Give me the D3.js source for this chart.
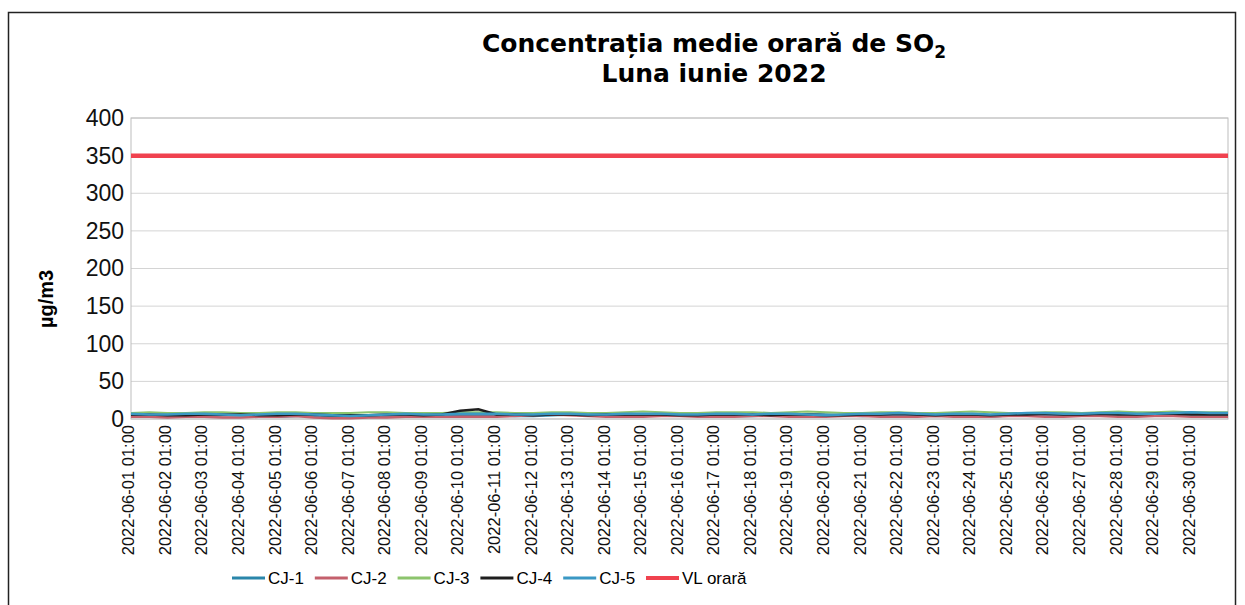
<!DOCTYPE html>
<html>
<head>
<meta charset="utf-8">
<script src="https://cdn.jsdelivr.net/npm/d3@7"></script>
<style>
  body { margin: 0; background: #fff; }
  svg { display: block; font-family: "Liberation Sans", Arial, sans-serif; }
  .grid line { stroke: #d4d4d4; }
  .xaxis text, .yaxis text { fill: #111; }
</style>
</head>
<body>
<div id="chart"></div>
<script>
// one value every 12 hours, from 2022-06-01 01:00 to 2022-07-01 01:00
var seriesNames = ["CJ-1", "CJ-2", "CJ-3", "CJ-4", "CJ-5"];
var cj1 = [4,5,4,3,4,5,5,4,3,4, 4,3,2,3,4,4,5,4,4,5, 5,4,4,5,6,5,5,4,4,5, 5,6,5,4,4,5,5,6,6,5, 4,5,6,5,5,6,4,3,5,6, 6,5,5,6,7,6,5,6,7,6, 6];
var cj2 = [3,3,2,3,3,2,2,3,3,4, 2,1,1,2,2,3,3,3,3,3, 3,4,5,6,5,4,3,3,3,4, 4,3,3,3,4,4,3,3,3,4, 4,3,3,3,4,3,3,3,4,4, 3,3,4,4,3,3,4,4,3,3, 3];
var cj3 = [8,9,8,8,9,9,8,8,9,9, 8,8,8,9,9,8,8,8,9,9, 9,8,8,9,9,8,8,9,10,9, 8,8,9,9,9,8,9,10,9,8, 8,9,9,8,8,9,10,9,8,8, 9,9,8,9,10,9,9,10,9,9, 9];
var cj4 = [6,6,5,5,6,6,6,5,5,6, 6,5,5,5,6,6,5,6,11,13, 6,6,5,6,6,5,6,6,6,6, 5,5,6,6,6,5,6,6,5,5, 6,6,7,6,5,6,6,5,6,6, 7,6,6,7,6,6,7,7,6,6, 6];
var cj5 = [7,6,6,7,7,6,5,6,7,7, 6,5,4,5,6,7,6,6,7,7, 7,6,6,7,7,6,6,7,7,7, 6,6,7,7,6,7,7,6,5,6, 7,7,8,7,6,7,7,6,7,8, 8,7,7,8,8,7,7,8,9,8, 8];
var vlOrara = 350;
var days = d3.range(1, 31);
var yTicks = [0, 50, 100, 150, 200, 250, 300, 350, 400];

var colors = ["#2a86aa", "#c4606c", "#8cc46c", "#1e1e1e", "#3a98c4", "#f0424f"];

var width = 1245, height = 605;
var plot = { left: 131, top: 118, right: 1228, bottom: 419 };

var svg = d3.select("#chart").append("svg")
  .attr("width", width)
  .attr("height", height);

// outer frame of the chart
svg.append("rect")
  .attr("x", 8.5).attr("y", 12.5)
  .attr("width", 1227).attr("height", 620)
  .attr("fill", "none").attr("stroke", "#222").attr("stroke-width", 1.5);

var xScale = d3.scaleLinear().domain([0, 720]).range([plot.left, plot.right]);
var yScale = d3.scaleLinear().domain([0, 400]).range([plot.bottom, plot.top]);

//Horizontal gridlines
svg.append("g")
  .attr("class", "grid")
  .selectAll("line")
  .data(yTicks)
  .enter().append("line")
  .attr("x1", plot.left).attr("x2", plot.right)
  .attr("y1", function(d) { return yScale(d); })
  .attr("y2", function(d) { return yScale(d); });

svg.append("rect")
  .attr("x", plot.left).attr("y", plot.top)
  .attr("width", plot.right - plot.left).attr("height", plot.bottom - plot.top)
  .attr("fill", "none").attr("stroke", "#bdbdbd");

//Y axis
var yAxis = d3.axisLeft(yScale).tickValues(yTicks).tickSize(0).tickPadding(7);
var gy = svg.append("g")
  .attr("class", "yaxis")
  .attr("transform", "translate(" + plot.left + ",0)")
  .call(yAxis);
gy.select(".domain").remove();
gy.selectAll("text").style("font-size", "23px");

svg.append("text")
  .attr("transform", "translate(53,299) rotate(-90)")
  .attr("text-anchor", "middle")
  .style("font-size", "20px")
  .style("font-weight", "bold")
  .text("µg/m3");

//X axis: one label per day
var xAxis = d3.axisBottom(xScale)
  .tickValues(days.map(function(d) { return (d - 1) * 24; }))
  .tickFormat(function(h) {
    var d = h / 24 + 1;
    return "2022-06-" + (d < 10 ? "0" + d : d) + " 01:00";
  })
  .tickSize(0);
var gx = svg.append("g")
  .attr("class", "xaxis")
  .attr("transform", "translate(0," + plot.bottom + ")")
  .call(xAxis);
gx.select(".domain").remove();
gx.selectAll("text")
  .style("font-size", "16.5px")
  .attr("text-anchor", "end")
  .attr("transform", "rotate(-90)")
  .attr("x", -6)
  .attr("y", -3)
  .attr("dy", "0.35em");

// define the line
var line = d3.line()
  .x(function(d, i) { return xScale(i * 12); })
  .y(function(d) { return yScale(d); });

var allSeries = [cj1, cj2, cj3, cj4, cj5];
allSeries.forEach(function(values, k) {
  svg.append("path")
    .datum(values)
    .attr("fill", "none")
    .attr("stroke", colors[k])
    .attr("stroke-width", k == 2 ? 2 : 2.5)
    .attr("d", line);
});

//Limit value line
svg.append("line")
  .attr("x1", xScale(0)).attr("x2", xScale(720))
  .attr("y1", yScale(vlOrara)).attr("y2", yScale(vlOrara))
  .attr("stroke", colors[5])
  .attr("stroke-width", 4.5);

//Title
var title = svg.append("text")
  .attr("text-anchor", "middle")
  .style("font-family", "'DejaVu Sans', sans-serif")
  .style("font-size", "25px")
  .style("font-weight", "bold");
var t1 = title.append("tspan").attr("x", 714).attr("y", 52).text("Concentrația medie orară de SO");
t1.append("tspan").attr("dy", 6).style("font-size", "17px").text("2");
title.append("tspan").attr("x", 714).attr("y", 82).text("Luna iunie 2022");

//Legend
var legendNames = seriesNames.concat(["VL orară"]);
var legend = svg.append("g").selectAll("g")
  .data(legendNames)
  .enter().append("g")
  .attr("transform", function(d, i) { return "translate(" + (232 + i * 82.8) + ",578)"; });
legend.append("line")
  .attr("x1", 0).attr("x2", 33)
  .attr("stroke", function(d, i) { return colors[i]; })
  .attr("stroke-width", function(d, i) { return i == 5 ? 4 : 3; });
legend.append("text")
  .attr("x", 36)
  .attr("dy", "0.35em")
  .style("font-size", "17px")
  .text(function(d) { return d; });
</script>
</body>
</html>
